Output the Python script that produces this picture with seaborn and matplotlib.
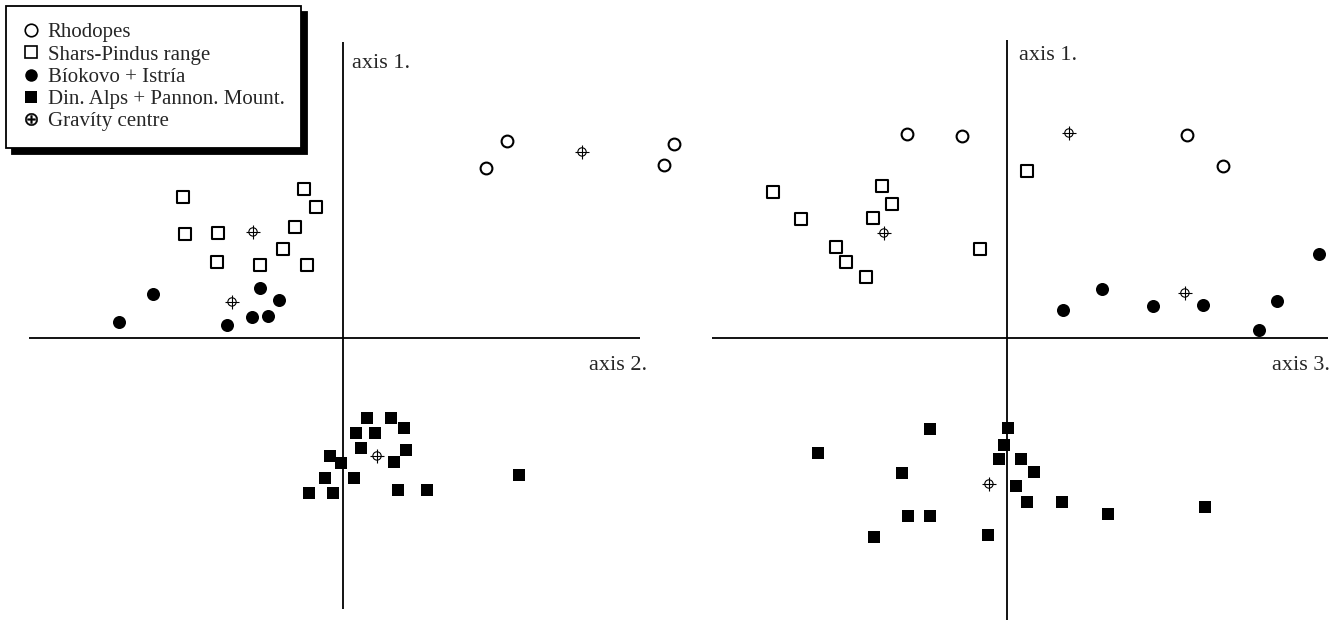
import pandas as pd
import matplotlib
matplotlib.use("Agg")
import matplotlib.pyplot as plt
from matplotlib.lines import Line2D
import seaborn as sns

# ---- data (axis units, origin where the axes cross) ----
# left panel: axis 2 (x) vs axis 1 (y)
rhod_a2 = [1.43, 1.64, 3.21, 3.31]
rhod_a1 = [1.70, 1.97, 1.73, 1.94]
shars_a2 = [-1.60, -0.39, -0.27, -1.58, -1.25, -0.48, -0.60, -1.26, -0.83, -0.36]
shars_a1 = [1.41, 1.49, 1.31, 1.04, 1.05, 1.11, 0.89, 0.76, 0.73, 0.73]
biok_a2 = [-1.90, -2.24, -0.83, -0.64, -0.91, -0.75, -1.16]
biok_a1 = [0.44, 0.16, 0.50, 0.38, 0.21, 0.22, 0.13]
din_a2 = [0.24, 0.48, 0.13, 0.32, 0.61, 0.18, 0.63, -0.13, -0.02, 0.51,
          -0.18, 0.11, -0.34, -0.10, 0.55, 0.84, 1.76]
din_a1 = [-0.80, -0.80, -0.95, -0.95, -0.90, -1.10, -1.12, -1.18, -1.25, -1.24,
          -1.40, -1.40, -1.55, -1.55, -1.52, -1.52, -1.37]
grav_a2 = [2.39, -0.90, -1.11, 0.34]
grav_a1 = [1.86, 1.06, 0.36, -1.18]

# right panel: axis 3 (x) vs axis 1 (y)
rhod_a3 = [-1.00, -0.45, 1.80, 2.16]
rhod_b1 = [2.04, 2.02, 2.03, 1.72]
shars_a3 = [-2.34, -1.25, -1.15, -2.06, -1.34, -1.71, -1.61, -1.41, -0.27, 0.20]
shars_b1 = [1.46, 1.52, 1.34, 1.19, 1.20, 0.91, 0.76, 0.61, 0.89, 1.67]
biok_a3 = [0.56, 0.95, 1.46, 1.96, 2.52, 2.70, 3.12]
biok_b1 = [0.28, 0.49, 0.32, 0.33, 0.08, 0.37, 0.84]
din_a3 = [-0.77, 0.01, -1.89, -0.03, -0.08, 0.14, -1.05, 0.27, 0.09, 0.20,
          0.55, -0.99, -0.77, 1.01, 1.98, -1.33, -0.19]
din_b1 = [-0.91, -0.90, -1.15, -1.07, -1.21, -1.21, -1.35, -1.34, -1.48, -1.64,
          -1.64, -1.78, -1.78, -1.76, -1.69, -1.99, -1.97]
grav_a3 = [0.62, -1.23, 1.78, -0.18]
grav_b1 = [2.05, 1.05, 0.45, -1.46]

legend_labels = ["Rhodopes", "Shars-Pindus range", "Bíokovo + Istría",
                 "Din. Alps + Pannon. Mount.", "Gravíty centre"]

sns.set_style("white")
plt.rcParams["font.family"] = ["Liberation Serif", "DejaVu Serif"]

fig = plt.figure(figsize=(13.37, 6.26), dpi=100)
ax_l = fig.add_axes([0.0217, 0.0272, 0.457, 0.9058])
ax_r = fig.add_axes([0.5325, 0.0096, 0.4607, 0.9265])


def draw_panel(ax, rx, ry, sx, sy, bx, by, dx, dy, gx, gy):
    # points may sit past the end of the drawn axis lines, so no clipping
    kw = dict(ax=ax, zorder=3, clip_on=False)
    sns.scatterplot(x=rx, y=ry, marker="o", s=72, color="white",
                    edgecolor="black", linewidth=1.5, **kw)
    sns.scatterplot(x=sx, y=sy, marker="s", s=80, color="white",
                    edgecolor="black", linewidth=1.5, **kw)
    sns.scatterplot(x=bx, y=by, marker="o", s=88, color="black",
                    linewidth=0, **kw)
    sns.scatterplot(x=dx, y=dy, marker="s", s=74, color="black",
                    linewidth=0, **kw)
    sns.scatterplot(x=gx, y=gy, marker="o", s=36, color="none",
                    edgecolor="black", linewidth=0.8, **kw)
    sns.scatterplot(x=gx, y=gy, marker="+", s=110, color="black",
                    linewidth=0.8, **kw)
    ax.axhline(0, color="black", lw=1.3, zorder=1)
    ax.axvline(0, color="black", lw=1.3, zorder=1)
    sns.despine(ax=ax, left=True, bottom=True)
    ax.set_xticks([])
    ax.set_yticks([])
    ax.set_xlabel("")
    ax.set_ylabel("")


draw_panel(ax_l, rhod_a2, rhod_a1, shars_a2, shars_a1, biok_a2, biok_a1,
           din_a2, din_a1, grav_a2, grav_a1)
ax_l.set_xlim(-3.14, 2.97)
ax_l.set_ylim(-2.71, 2.96)
ax_l.text(0.529, 0.954, "axis 1.", transform=ax_l.transAxes, fontsize=16,
          va="baseline", ha="left")
ax_l.text(1.011, 0.4215, "axis 2.", transform=ax_l.transAxes, fontsize=16,
          va="baseline", ha="right")

draw_panel(ax_r, rhod_a3, rhod_b1, shars_a3, shars_b1, biok_a3, biok_b1,
           din_a3, din_b1, grav_a3, grav_b1)
ax_r.set_xlim(-2.95, 3.21)
ax_r.set_ylim(-2.82, 2.98)
ax_r.text(0.498, 0.9655, "axis 1.", transform=ax_r.transAxes, fontsize=16,
          va="baseline", ha="left")
ax_r.text(1.003, 0.431, "axis 3.", transform=ax_r.transAxes, fontsize=16,
          va="baseline", ha="right")

handles = [
    Line2D([], [], ls="", marker="o", ms=9, mfc="white", mec="black", mew=1.2),
    Line2D([], [], ls="", marker="s", ms=9, mfc="white", mec="black", mew=1.2),
    Line2D([], [], ls="", marker="o", ms=9, mfc="black", mec="black", mew=0),
    Line2D([], [], ls="", marker="s", ms=8, mfc="black", mec="black", mew=0),
    Line2D([], [], ls="", marker="$\\oplus$", ms=9, mfc="black", mec="black", mew=0.3),
]
leg = fig.legend(handles, legend_labels, loc="upper left",
                 bbox_to_anchor=(6 / 1337, 1 - 6 / 626), borderaxespad=0,
                 fontsize=15, frameon=True, fancybox=False, labelspacing=0.13,
                 handlelength=0.8, handletextpad=0.4, borderpad=0.8,
                 shadow={"ox": 4, "oy": -4, "color": "black", "alpha": 1})
leg.get_frame().set_edgecolor("black")
leg.get_frame().set_linewidth(1.3)
leg.get_frame().set_alpha(1)

fig.savefig("out.png", dpi=100)
